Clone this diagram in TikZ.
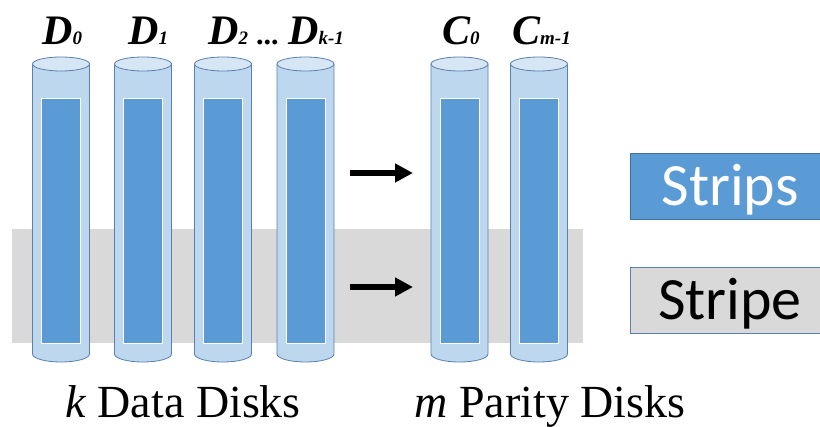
\documentclass[tikz,border=0pt]{standalone}
\usepackage{fontspec}
\setmainfont{Liberation Serif}
\newfontfamily\timesfont{Liberation Serif}
\newfontfamily\legendfont{Carlito}
\usetikzlibrary{arrows.meta}
\definecolor{diskfill}{HTML}{BDD7EE}
\definecolor{disktop}{HTML}{D6E6F5}
\definecolor{diskline}{HTML}{5A80AD}
\definecolor{stripblue}{HTML}{5B9BD5}
\definecolor{stripeline}{HTML}{41719C}
\definecolor{stripegray}{HTML}{D9D9D9}
\newcommand{\disksub}[1]{{\fontsize{19}{19}\selectfont #1}}
\tikzset{ % common looks of the picture
	disk/.style={fill=diskfill, draw=diskline, line width=0.8pt},
	disklid/.style={fill=disktop, draw=diskline, line width=0.8pt},
	strip/.style={fill=stripblue, draw=white, line width=0.8pt},
	disklabel/.style={anchor=base west, inner sep=0pt,
		font=\timesfont\fontsize{42}{42}\selectfont\bfseries\itshape},
	pusharrow/.style={line width=6.5pt, -{Triangle[length=18pt,width=18pt]}},
	legendbox/.style={minimum width=200pt, minimum height=66pt, inner sep=0pt,
		line width=0.8pt, text height=39pt, text depth=0pt,
		font=\legendfont\fontsize{60}{60}\selectfont},
	diskcaption/.style={anchor=base, inner sep=0pt, font=\timesfont\fontsize{46}{46}\selectfont}
}

\begin{document}
\begin{tikzpicture}[x=1pt, y=1pt]
	\clip (0,0) rectangle (820,-427);
	% Stripe band
	\fill [stripegray] (12,-229) rectangle (583,-343);
	% Disks
	\foreach \cx/\lx/\name/\lab in {61/42/d0/D\disksub{0}, 143/128/d1/D\disksub{1},
		223/208/d2/D\disksub{2}, 305.5/288/dk/D\disksub{k-1},
		459.5/442/c0/C\disksub{0}, 539/512/cm/C\disksub{m-1}}{
		\draw [disk] (\cx-28.5,-64) -- (\cx-28.5,-354)
			arc [start angle=180, end angle=360, x radius=28.5, y radius=8]
			-- (\cx+28.5,-64) -- cycle;
		\draw [disklid] (\cx,-64) ellipse [x radius=28.5, y radius=7];
		\draw [strip] (\cx-19.5,-98) rectangle (\cx+19.5,-343);
		\node [disklabel] (lbl-\name) at (\lx,-45) {\lab};
	}
	\node [disklabel, font=\timesfont\fontsize{30}{30}\selectfont\bfseries] (dots) at (256,-45) {...};
	% Encoding arrows
	\coordinate (strips-from) at (350,-173);
	\coordinate (strips-to) at (413,-173);
	\coordinate (stripe-from) at (350,-287);
	\coordinate (stripe-to) at (413,-287);
	\draw [pusharrow] (strips-from) -- (strips-to);
	\draw [pusharrow] (stripe-from) -- (stripe-to);
	% Legend
	\node [legendbox, fill=stripblue, draw=stripeline, text=white] (strips) at (730,-186) {Strips};
	\node [legendbox, fill=stripegray, draw=diskline] (stripe) at (730,-300) {Stripe};
	% Captions
	\node [diskcaption] (data-caption) at (183,-418) {\textit{k} Data Disks};
	\node [diskcaption] (parity-caption) at (550,-418) {\textit{m} Parity Disks};
\end{tikzpicture}
\end{document}
